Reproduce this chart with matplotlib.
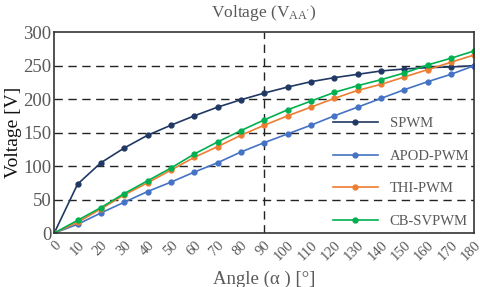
import matplotlib.pyplot as plt

plt.rcParams['font.family'] = ['Liberation Serif', 'DejaVu Serif']
plt.rcParams['mathtext.fontset'] = 'stix'

# Winkel 0..180
angles = [0, 10, 20, 30, 40, 50, 60, 70, 80, 90, 100, 110, 120, 130, 140, 150, 160, 170, 180]

spwm = [0, 73, 105, 127, 146, 161, 175, 188, 199, 209, 218, 226, 232, 237, 242, 245, 247, 248, 250]
apod = [0, 13, 30, 46, 62, 76, 91, 105, 121, 135, 148, 161, 175, 188, 201, 214, 226, 237, 250]
thi = [0, 16, 36, 57, 75, 94, 113, 129, 146, 161, 175, 188, 201, 213, 222, 233, 244, 255, 266]
cbsv = [0, 19, 38, 59, 78, 97, 118, 136, 153, 169, 184, 197, 210, 220, 229, 239, 251, 261, 272]

yticks = [0, 50, 100, 150, 200, 250, 300]

grau = '#595959'

fig, ax = plt.subplots(figsize=(4.8, 2.87), dpi=100)
fig.subplots_adjust(left=0.113, right=0.988, top=0.888, bottom=0.188)

ax.plot(angles, spwm, color='#203864', marker='o', markersize=3.5, lw=1.2, label='SPWM')
ax.plot(angles, apod, color='#4472C4', marker='o', markersize=3.5, lw=1.2, label='APOD-PWM')
ax.plot(angles, thi, color='#ED7D31', marker='o', markersize=3.5, lw=1.2, label='THI-PWM')
ax.plot(angles, cbsv, color='#00B050', marker='o', markersize=3.5, lw=1.2, label='CB-SVPWM')

# Gitterlinien
for y in yticks[1:-1]:
    ax.axhline(y, color='#222222', ls=(0, (6, 4)), lw=1.0, zorder=0)
ax.axvline(90, color='#222222', ls=(0, (6, 4)), lw=1.0, zorder=0)

ax.set_xlim(0, 180)
ax.set_ylim(0, 300)
ax.set_xticks(angles)
ax.set_xticklabels([str(a) for a in angles], rotation=45, ha='right', va='top',
                   rotation_mode='anchor', fontsize=10.5, color=grau)
ax.set_yticks(yticks)
ax.set_yticklabels([str(y) for y in yticks], fontsize=13.5, color=grau)
ax.tick_params(axis='y', length=0, pad=2)
ax.tick_params(axis='x', length=0, pad=4)

for s in ax.spines.values():
    s.set_color('#333333')
    s.set_linewidth(1.2)

ax.set_title("Voltage (V$_{\\mathregular{AA'}}$)", fontsize=12.5, color=grau, pad=11)
ax.set_xlabel('Angle (α ) [°]', fontsize=13.5, color=grau, labelpad=5)
ax.set_ylabel('Voltage [V]', fontsize=14, color='#111111', labelpad=1)

ax.legend(loc='lower right', bbox_to_anchor=(1.0, 0.0), frameon=False, fontsize=10.5,
          labelspacing=1.33, handlelength=3.1, handletextpad=0.8, labelcolor=grau,
          borderaxespad=0.1, borderpad=0.25)

plt.savefig('out.png')
